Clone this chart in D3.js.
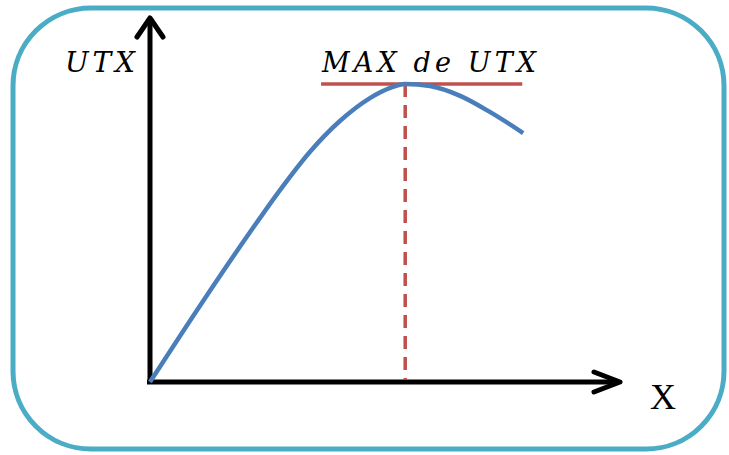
<!DOCTYPE html>
<html>
<head>
<meta charset="utf-8">
<script src="https://cdn.jsdelivr.net/npm/d3@7"></script>
<style>
  body { margin: 0; background: #fff; }
  svg { display: block; }
</style>
</head>
<body>
<div id="chart"></div>
<script>
// UTX curve with its maximum
const curveX = [0, 10.6, 21.3, 27.7, 34.0, 40.4, 46.8, 51.1, 54.3, 59.6, 66.0, 72.3, 79.4];
const curveY = [0, 20.9, 41.2, 52.8, 63.2, 71.7, 78.0, 80.8, 81.9, 81.3, 78.6, 74.2, 68.4];
const maxPoint = {x: 54.3, y: 81.9};
const maxLine = [36.4, 79.2];
const labels = {y: "UTX", x: "X", max: "MAX de UTX"};

const W = 729, H = 455;
const svg = d3.select("#chart").append("svg").attr("width", W).attr("height", H);

const x = d3.scaleLinear().domain([0, 100]).range([150, 620]);
const y = d3.scaleLinear().domain([0, 100]).range([382, 18]);

// frame
svg.append("rect").attr("x", 13).attr("y", 8).attr("width", 711).attr("height", 441)
  .attr("rx", 78).attr("ry", 78)
  .attr("fill", "none").attr("stroke", "#4bacc6").attr("stroke-width", 5);

// axes
const axes = svg.append("g").attr("fill", "none").attr("stroke", "#000")
  .attr("stroke-width", 5).attr("stroke-linejoin", "round");
axes.append("line").attr("x1", x(0)).attr("y1", y(0) + 1).attr("x2", x(0)).attr("y2", y(100) + 2);
axes.append("line").attr("x1", x(0) - 3).attr("y1", y(0)).attr("x2", x(100) - 2).attr("y2", y(0));
axes.append("path").attr("stroke-linecap", "round")
  .attr("d", `M${x(0) - 13},${y(100) + 19}L${x(0)},${y(100)}L${x(0) + 13},${y(100) + 19}`);
axes.append("path").attr("stroke-linecap", "round")
  .attr("d", `M${x(100) - 26},${y(0) - 10}L${x(100)},${y(0)}L${x(100) - 26},${y(0) + 10}`);

// maximum guides
svg.append("line").attr("x1", x(maxPoint.x)).attr("x2", x(maxPoint.x))
  .attr("y1", y(maxPoint.y)).attr("y2", y(0) - 2)
  .attr("stroke", "#c0504d").attr("stroke-width", 3.5).attr("stroke-dasharray", "13,8");
svg.append("line").attr("x1", x(maxLine[0])).attr("x2", x(maxLine[1]))
  .attr("y1", y(maxPoint.y)).attr("y2", y(maxPoint.y))
  .attr("stroke", "#c0504d").attr("stroke-width", 3.5);

// curve
const pts = curveX.map((v, i) => [v, curveY[i]]);
svg.append("path").datum(pts).attr("fill", "none").attr("stroke", "#4a7ebb")
  .attr("stroke-width", 4.5)
  .attr("d", d3.line().x(d => x(d[0])).y(d => y(d[1])).curve(d3.curveMonotoneX));

// labels
const serif = "DejaVu Serif";
svg.append("text").attr("x", 65).attr("y", 72).text(labels.y)
  .attr("font-family", serif).attr("font-style", "italic").attr("font-size", 28)
  .attr("textLength", 70).attr("lengthAdjust", "spacing").attr("fill", "#000");
svg.append("text").attr("x", 322).attr("y", 72).text(labels.max)
  .attr("font-family", serif).attr("font-style", "italic").attr("font-size", 27)
  .attr("textLength", 214).attr("lengthAdjust", "spacing").attr("fill", "#000");
svg.append("text").attr("x", 650).attr("y", 409).text(labels.x)
  .attr("font-family", "Liberation Serif").attr("font-size", 36).attr("fill", "#000");
</script>
</body>
</html>
